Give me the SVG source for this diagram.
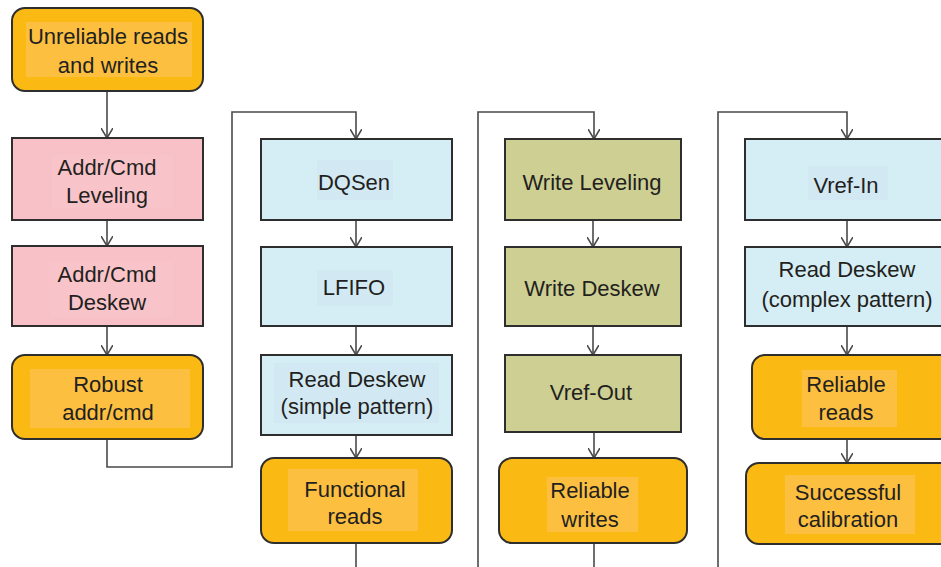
<svg xmlns="http://www.w3.org/2000/svg" width="941" height="567" viewBox="0 0 941 567">
<defs>
<marker id="arr" viewBox="0 0 10 12" refX="10" refY="6" markerWidth="10" markerHeight="12" markerUnits="userSpaceOnUse" orient="auto">
<path d="M0,0 L10,6 L0,12" fill="none" stroke="#4a4a4a" stroke-width="1.6"/>
</marker>
<style>
.box{stroke:#2e2e2e;stroke-width:2}
.or{fill:#fbb914}
.orl{fill:#fcbf40}
.pk{fill:#f8c1c7}
.pkl{fill:#f8c4ca}
.bl{fill:#d5edf4}
.bll{fill:#d2e9f4}
.ol{fill:#cdcf93}
.t{font-family:"Liberation Sans",Arial,sans-serif;font-size:22px;fill:#231f20;text-anchor:middle}
.c{fill:none;stroke:#4a4a4a;stroke-width:1.6}
</style>
</defs>
<rect width="941" height="567" fill="#ffffff"/>
<g id="connectors">
<path class="c" d="M107 91 V138" marker-end="url(#arr)"/>
<path class="c" d="M107 220 V246" marker-end="url(#arr)"/>
<path class="c" d="M107 326 V355" marker-end="url(#arr)"/>
<path class="c" d="M107 439 V467 H232 V112 H356 V139" marker-end="url(#arr)"/>
<path class="c" d="M356 220 V247" marker-end="url(#arr)"/>
<path class="c" d="M356 326 V355" marker-end="url(#arr)"/>
<path class="c" d="M356 435 V458" marker-end="url(#arr)"/>
<path class="c" d="M356 543 V590 H478 V112 H594 V139" marker-end="url(#arr)"/>
<path class="c" d="M593 220 V247" marker-end="url(#arr)"/>
<path class="c" d="M593 326 V355" marker-end="url(#arr)"/>
<path class="c" d="M594 432 V458" marker-end="url(#arr)"/>
<path class="c" d="M594 543 V590 H718 V112 H847 V139" marker-end="url(#arr)"/>
<path class="c" d="M847 220 V247" marker-end="url(#arr)"/>
<path class="c" d="M847 326 V355" marker-end="url(#arr)"/>
<path class="c" d="M847 439 V463" marker-end="url(#arr)"/>
</g>
<g id="unreliable">
<rect class="box or" x="12" y="8" width="191" height="83" rx="13"/>
<rect class="orl" x="26" y="22" width="166" height="55"/>
<text class="t" x="108" y="44">Unreliable reads</text>
<text class="t" x="108" y="73">and writes</text>
</g>
<g id="addr-leveling">
<rect class="box pk" x="12" y="138" width="191" height="82"/>
<rect class="pkl" x="52" y="155" width="121" height="53"/>
<text class="t" x="107" y="175">Addr/Cmd</text>
<text class="t" x="107" y="203">Leveling</text>
</g>
<g id="addr-deskew">
<rect class="box pk" x="12" y="246" width="191" height="80"/>
<rect class="pkl" x="50" y="262" width="123" height="55"/>
<text class="t" x="107" y="282">Addr/Cmd</text>
<text class="t" x="107" y="310">Deskew</text>
</g>
<g id="robust">
<rect class="box or" x="12" y="355" width="191" height="84" rx="13"/>
<rect class="orl" x="30" y="369" width="160" height="59"/>
<text class="t" x="108" y="392">Robust</text>
<text class="t" x="108" y="420">addr/cmd</text>
</g>
<g id="dqsen">
<rect class="box bl" x="261" y="139" width="191" height="81"/>
<rect class="bll" x="317" y="160" width="76" height="40"/>
<text class="t" x="354" y="190">DQSen</text>
</g>
<g id="lfifo">
<rect class="box bl" x="261" y="247" width="191" height="79"/>
<rect class="bll" x="317" y="270" width="76" height="36"/>
<text class="t" x="354" y="295">LFIFO</text>
</g>
<g id="read-deskew-simple">
<rect class="box bl" x="261" y="355" width="191" height="80"/>
<rect class="bll" x="274" y="363" width="165" height="60"/>
<text class="t" x="357" y="387">Read Deskew</text>
<text class="t" x="357" y="414">(simple pattern)</text>
</g>
<g id="functional">
<rect class="box or" x="261" y="458" width="191" height="85" rx="13"/>
<rect class="orl" x="288" y="469" width="130" height="62"/>
<text class="t" x="355" y="497">Functional</text>
<text class="t" x="355" y="524">reads</text>
</g>
<g id="write-leveling">
<rect class="box ol" x="505" y="139" width="176" height="81"/>
<text class="t" x="592" y="190">Write Leveling</text>
</g>
<g id="write-deskew">
<rect class="box ol" x="505" y="247" width="176" height="79"/>
<text class="t" x="592" y="296">Write Deskew</text>
</g>
<g id="vref-out">
<rect class="box ol" x="505" y="355" width="176" height="77"/>
<text class="t" x="591" y="400">Vref-Out</text>
</g>
<g id="reliable-writes">
<rect class="box or" x="499" y="458" width="188" height="85" rx="13"/>
<rect class="orl" x="547" y="477" width="91" height="55"/>
<text class="t" x="590" y="498">Reliable</text>
<text class="t" x="590" y="527">writes</text>
</g>
<g id="vref-in">
<rect class="box bl" x="745" y="139" width="210" height="81"/>
<rect class="bll" x="808" y="166" width="80" height="34"/>
<text class="t" x="846" y="193">Vref-In</text>
</g>
<g id="read-deskew-complex">
<rect class="box bl" x="745" y="247" width="210" height="79"/>
<text class="t" x="847" y="277">Read Deskew</text>
<text class="t" x="847" y="307">(complex pattern)</text>
</g>
<g id="reliable-reads">
<rect class="box or" x="752" y="355" width="203" height="84" rx="13"/>
<rect class="orl" x="802" y="370" width="95" height="57"/>
<text class="t" x="846" y="392">Reliable</text>
<text class="t" x="846" y="420">reads</text>
</g>
<g id="successful">
<rect class="box or" x="746" y="463" width="209" height="81" rx="13"/>
<rect class="orl" x="785" y="475" width="130" height="59"/>
<text class="t" x="848" y="500">Successful</text>
<text class="t" x="848" y="527">calibration</text>
</g>
</svg>
